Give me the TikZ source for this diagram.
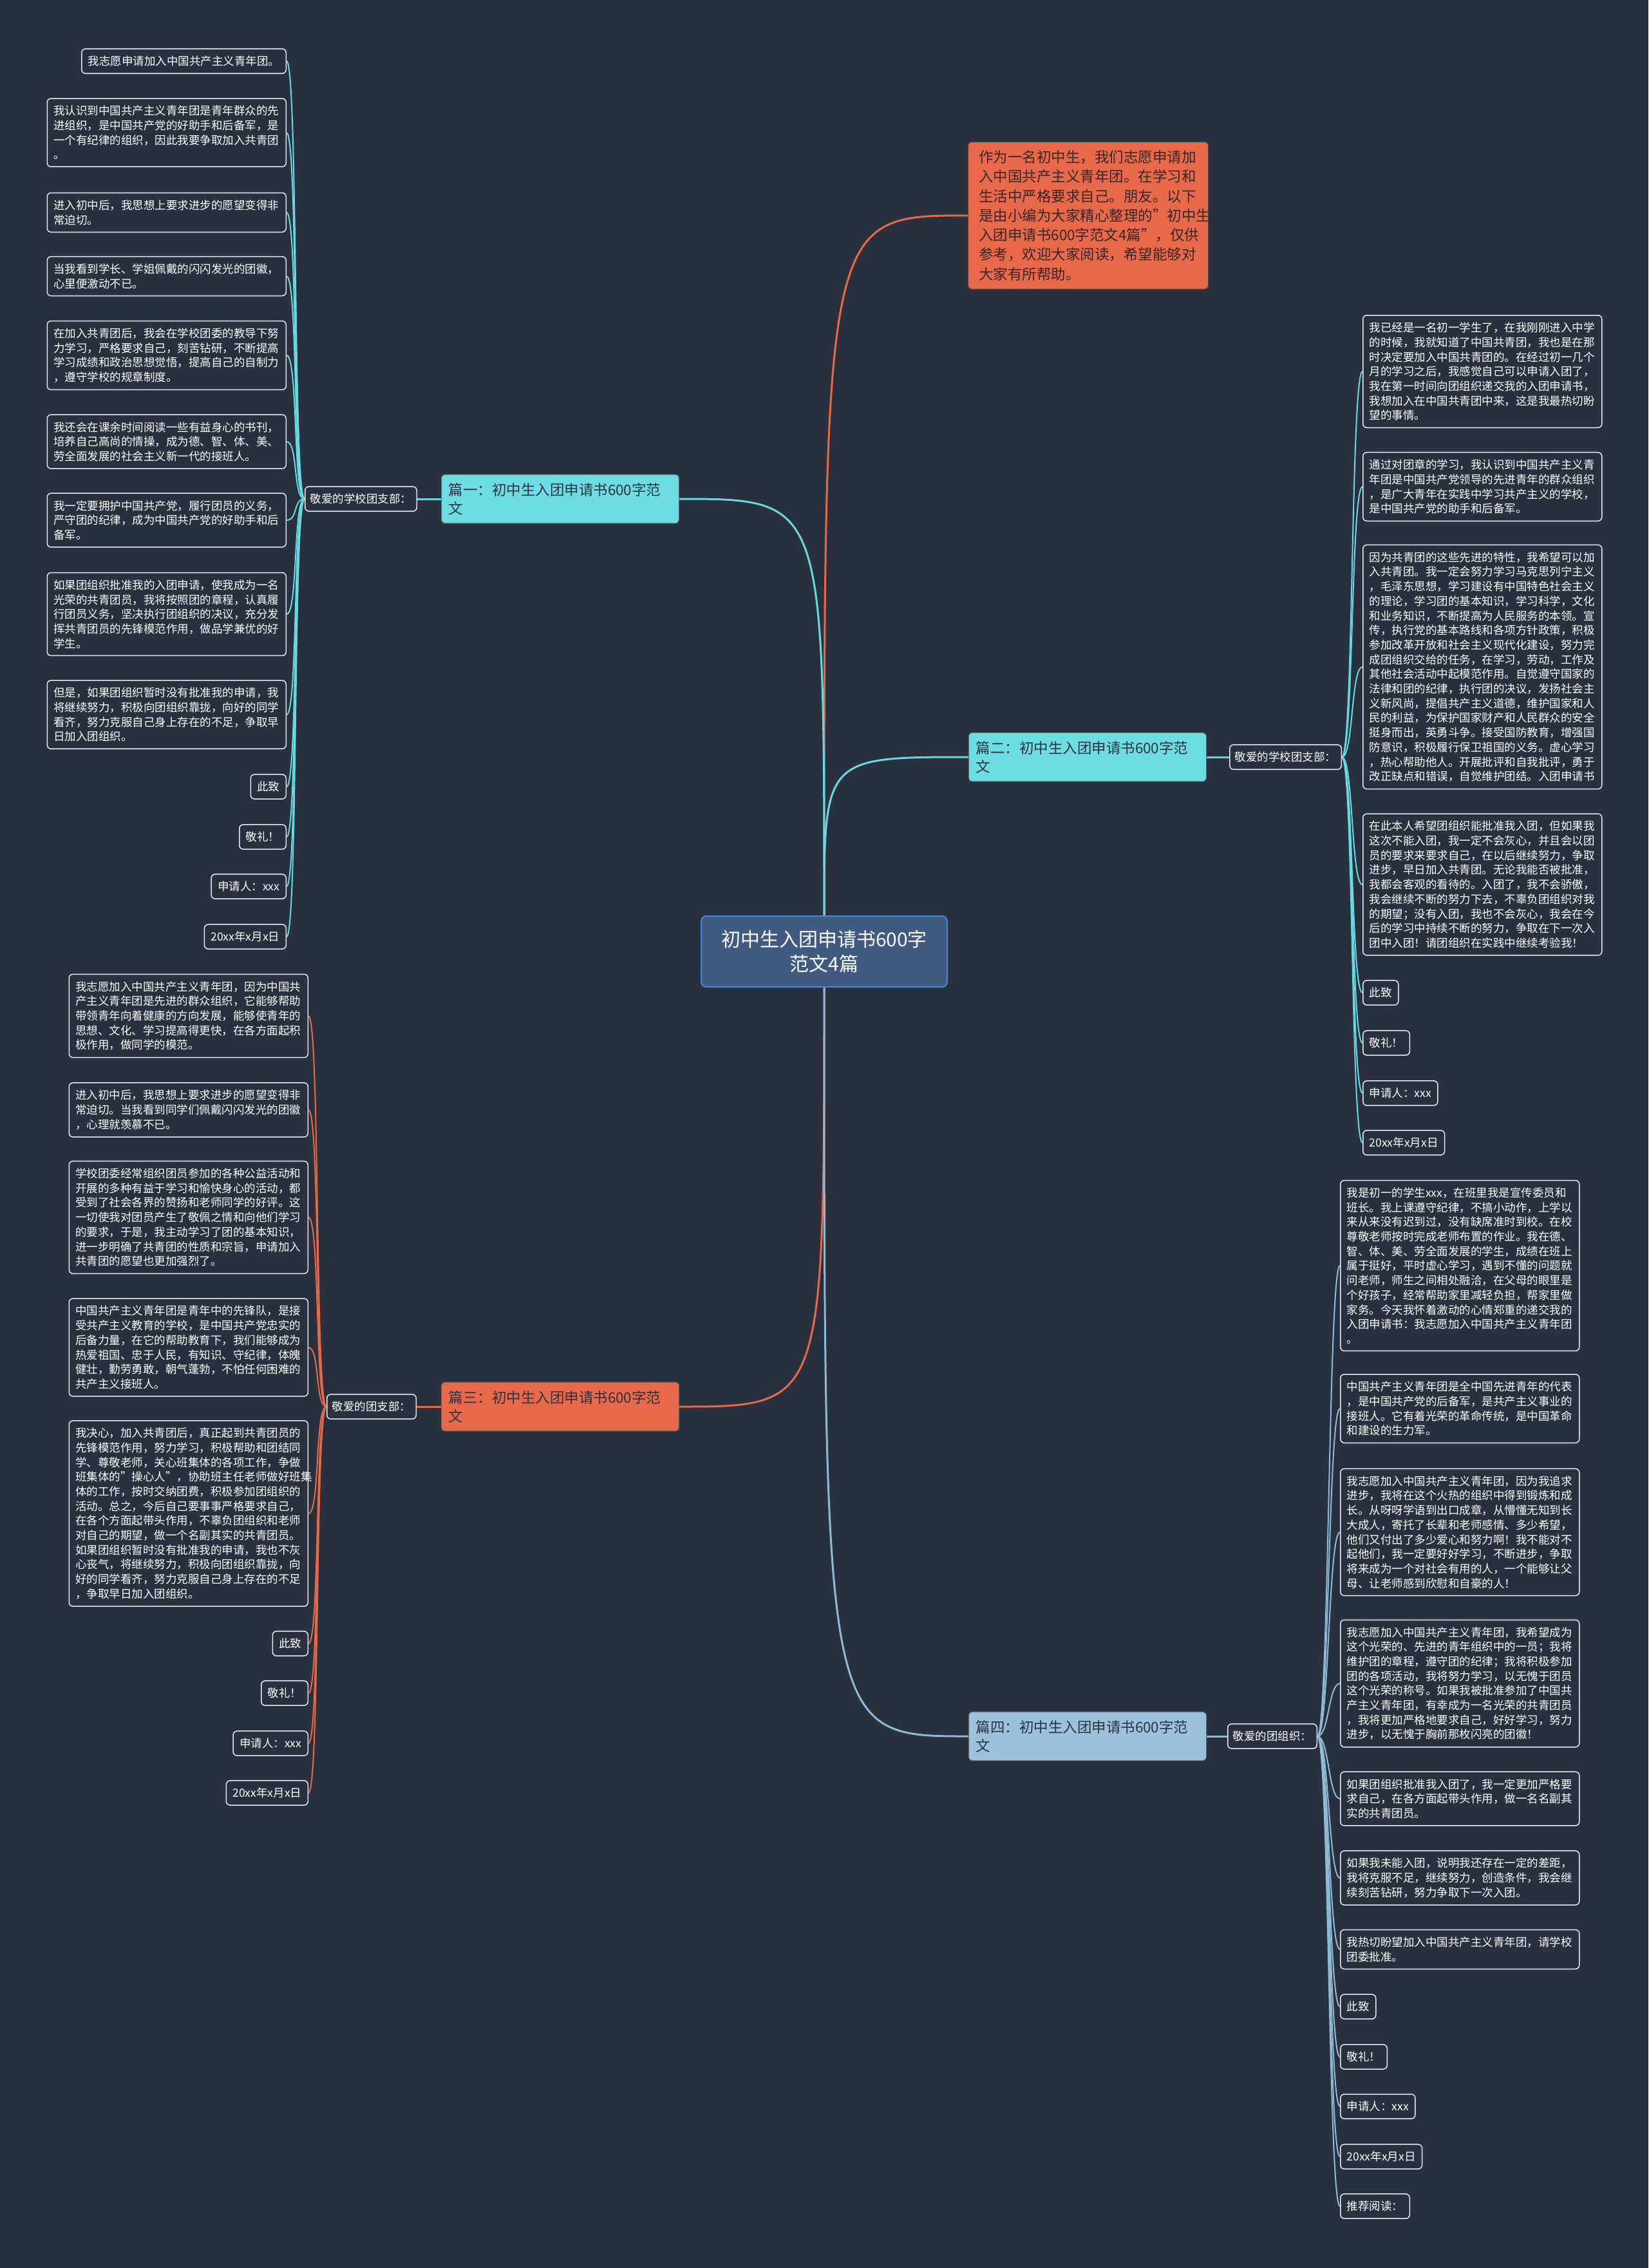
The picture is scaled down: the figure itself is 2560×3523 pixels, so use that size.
\documentclass[tikz,border=0pt]{standalone}
\usepackage{fontspec}
\setmainfont{Noto Sans CJK SC}
\usetikzlibrary{calc}
\definecolor{bg}{HTML}{2A313E}
\definecolor{cyanf}{HTML}{6CDDE2}
\definecolor{cyanl}{HTML}{66D9DF}
\definecolor{orf}{HTML}{E8694A}
\definecolor{bluef}{HTML}{9BC2DA}
\definecolor{bluel}{HTML}{8FBAD4}
\definecolor{rootf}{HTML}{3F5B82}
\definecolor{rootl}{HTML}{4A86D8}
\definecolor{leafl}{HTML}{E6EAEE}
\definecolor{btext}{HTML}{2B3440}
\definecolor{itext}{HTML}{3A2626}
\pgfdeclarelayer{back}
\pgfdeclarelayer{lines}
\pgfsetlayers{back,lines,main}
\tikzset{
  leaf/.style={draw=leafl, line width=1.5pt, rounded corners=6pt, fill=bg, text=white,
    font=\fontsize{17.5}{22.7}\selectfont, align=left, text width=351pt,
    inner xsep=10pt, inner ysep=11pt},
  tag/.style={draw=leafl, line width=1.5pt, rounded corners=6pt, fill=bg, text=white,
    font=\fontsize{17.5}{22.7}\selectfont, inner xsep=10pt, inner ysep=11pt},
  sublabel/.style={tag, inner xsep=8pt},
  branch/.style={rounded corners=6pt, text width=347pt, inner xsep=11pt, inner ysep=13pt,
    align=left, font=\fontsize{22.5}{29}\selectfont, text=btext, draw=black!60, line width=1pt},
  root/.style={fill=rootf, draw=rootl, line width=2pt, rounded corners=8pt, text=white,
    font=\fontsize{30}{38}\selectfont, align=center, minimum width=382pt, minimum height=110pt},
  intro/.style={fill=orf, draw=black!70, line width=1pt, rounded corners=6pt, text=itext,
    text width=340pt, inner xsep=16.5pt, inner ysep=13pt, align=left,
    font=\fontsize{22.5}{30.3}\selectfont},
  cmain/.style={line width=3pt},
  cthin/.style={line width=2pt},
}
\begin{document}
\begin{tikzpicture}[x=1pt,y=-1pt]
\begin{pgfonlayer}{back}
\fill[bg] (0,0) rectangle (2560,3523);
\end{pgfonlayer}
\useasboundingbox (0,0) rectangle (2560,3523);

% root
\node[root] (c) at (1280,1478) {初中生入团申请书600字\\范文4篇};

% intro
\node[intro, anchor=north west] (intro) at (1503,220) {作为一名初中生，我们志愿申请加\\入中国共产主义青年团。在学习和\\生活中严格要求自己。朋友。以下\\是由小编为大家精心整理的"初中生\\入团申请书600字范文4篇"，仅供\\参考，欢迎大家阅读，希望能够对\\大家有所帮助。};

% branches
\node[branch, fill=cyanf, anchor=west] (b1) at (685,775) {篇一：初中生入团申请书600字范\\文};
\node[branch, fill=cyanf, anchor=west] (b2) at (1504,1176) {篇二：初中生入团申请书600字范\\文};
\node[branch, fill=orf, anchor=west] (b3) at (685,2185) {篇三：初中生入团申请书600字范\\文};
\node[branch, fill=bluef, anchor=west] (b4) at (1504,2697) {篇四：初中生入团申请书600字范\\文};

% sub labels
\node[sublabel, anchor=east] (s1) at (648,775) {敬爱的学校团支部：};
\node[sublabel, anchor=west] (s2) at (1909,1176) {敬爱的学校团支部：};
\node[sublabel, anchor=east] (s3) at (647,2185) {敬爱的团支部：};
\node[sublabel, anchor=west] (s4) at (1906,2697) {敬爱的团组织：};

% group 1 (left, top)
\node[tag, anchor=east] (a1) at (445,95) {我志愿申请加入中国共产主义青年团。};
\node[leaf, anchor=east] (a2) at (445,206) {我认识到中国共产主义青年团是青年群众的先\\进组织，是中国共产党的好助手和后备军，是\\一个有纪律的组织，因此我要争取加入共青团\\。};
\node[leaf, anchor=east] (a3) at (445,330) {进入初中后，我思想上要求进步的愿望变得非\\常迫切。};
\node[leaf, anchor=east] (a4) at (445,429) {当我看到学长、学姐佩戴的闪闪发光的团徽，\\心里便激动不已。};
\node[leaf, anchor=east] (a5) at (445,552) {在加入共青团后，我会在学校团委的教导下努\\力学习，严格要求自己，刻苦钻研，不断提高\\学习成绩和政治思想觉悟，提高自己的自制力\\，遵守学校的规章制度。};
\node[leaf, anchor=east] (a6) at (445,686) {我还会在课余时间阅读一些有益身心的书刊，\\培养自己高尚的情操，成为德、智、体、美、\\劳全面发展的社会主义新一代的接班人。};
\node[leaf, anchor=east] (a7) at (445,808) {我一定要拥护中国共产党，履行团员的义务，\\严守团的纪律，成为中国共产党的好助手和后\\备军。};
\node[leaf, anchor=east] (a8) at (445,954) {如果团组织批准我的入团申请，使我成为一名\\光荣的共青团员，我将按照团的章程，认真履\\行团员义务，坚决执行团组织的决议，充分发\\挥共青团员的先锋模范作用，做品学兼优的好\\学生。};
\node[leaf, anchor=east] (a9) at (445,1110) {但是，如果团组织暂时没有批准我的申请，我\\将继续努力，积极向团组织靠拢，向好的同学\\看齐，努力克服自己身上存在的不足，争取早\\日加入团组织。};
\node[tag, anchor=east] (a10) at (445,1222) {此致};
\node[tag, anchor=east] (a11) at (445,1300) {敬礼！};
\node[tag, anchor=east] (a12) at (445,1377) {申请人：xxx};
\node[tag, anchor=east] (a13) at (445,1455) {20xx年x月x日};

% group 2 (right, top)
\node[leaf, anchor=west] (r1) at (2116,577) {我已经是一名初一学生了，在我刚刚进入中学\\的时候，我就知道了中国共青团，我也是在那\\时决定要加入中国共青团的。在经过初一几个\\月的学习之后，我感觉自己可以申请入团了，\\我在第一时间向团组织递交我的入团申请书，\\我想加入在中国共青团中来，这是我最热切盼\\望的事情。};
\node[leaf, anchor=west] (r2) at (2116,756) {通过对团章的学习，我认识到中国共产主义青\\年团是中国共产党领导的先进青年的群众组织\\，是广大青年在实践中学习共产主义的学校，\\是中国共产党的助手和后备军。};
\node[leaf, anchor=west] (r3) at (2116,1036) {因为共青团的这些先进的特性，我希望可以加\\入共青团。我一定会努力学习马克思列宁主义\\，毛泽东思想，学习建设有中国特色社会主义\\的理论，学习团的基本知识，学习科学，文化\\和业务知识，不断提高为人民服务的本领。宣\\传，执行党的基本路线和各项方针政策，积极\\参加改革开放和社会主义现代化建设，努力完\\成团组织交给的任务，在学习，劳动，工作及\\其他社会活动中起模范作用。自觉遵守国家的\\法律和团的纪律，执行团的决议，发扬社会主\\义新风尚，提倡共产主义道德，维护国家和人\\民的利益，为保护国家财产和人民群众的安全\\挺身而出，英勇斗争。接受国防教育，增强国\\防意识，积极履行保卫祖国的义务。虚心学习\\，热心帮助他人。开展批评和自我批评，勇于\\改正缺点和错误，自觉维护团结。入团申请书};
\node[leaf, anchor=west] (r4) at (2116,1374) {在此本人希望团组织能批准我入团，但如果我\\这次不能入团，我一定不会灰心，并且会以团\\员的要求来要求自己，在以后继续努力，争取\\进步，早日加入共青团。无论我能否被批准，\\我都会客观的看待的。入团了，我不会骄傲，\\我会继续不断的努力下去，不辜负团组织对我\\的期望；没有入团，我也不会灰心，我会在今\\后的学习中持续不断的努力，争取在下一次入\\团中入团！请团组织在实践中继续考验我！};
\node[tag, anchor=west] (r5) at (2116,1542) {此致};
\node[tag, anchor=west] (r6) at (2116,1620) {敬礼！};
\node[tag, anchor=west] (r7) at (2116,1698) {申请人：xxx};
\node[tag, anchor=west] (r8) at (2116,1775) {20xx年x月x日};

% group 3 (left, bottom)
\node[leaf, anchor=east] (p1) at (479,1578) {我志愿加入中国共产主义青年团，因为中国共\\产主义青年团是先进的群众组织，它能够帮助\\带领青年向着健康的方向发展，能够使青年的\\思想、文化、学习提高得更快，在各方面起积\\极作用，做同学的模范。};
\node[leaf, anchor=east] (p2) at (479,1724) {进入初中后，我思想上要求进步的愿望变得非\\常迫切。当我看到同学们佩戴闪闪发光的团徽\\，心理就羡慕不已。};
\node[leaf, anchor=east] (p3) at (479,1891) {学校团委经常组织团员参加的各种公益活动和\\开展的多种有益于学习和愉快身心的活动，都\\受到了社会各界的赞扬和老师同学的好评。这\\一切使我对团员产生了敬佩之情和向他们学习\\的要求，于是，我主动学习了团的基本知识，\\进一步明确了共青团的性质和宗旨，申请加入\\共青团的愿望也更加强烈了。};
\node[leaf, anchor=east] (p4) at (479,2093) {中国共产主义青年团是青年中的先锋队，是接\\受共产主义教育的学校，是中国共产党忠实的\\后备力量，在它的帮助教育下，我们能够成为\\热爱祖国、忠于人民，有知识、守纪律，体魄\\健壮，勤劳勇敢，朝气蓬勃，不怕任何困难的\\共产主义接班人。};
\node[leaf, anchor=east] (p5) at (479,2351) {我决心，加入共青团后，真正起到共青团员的\\先锋模范作用，努力学习，积极帮助和团结同\\学、尊敬老师，关心班集体的各项工作，争做\\班集体的"操心人"，协助班主任老师做好班集\\体的工作，按时交纳团费，积极参加团组织的\\活动。总之，今后自己要事事严格要求自己，\\在各个方面起带头作用，不辜负团组织和老师\\对自己的期望，做一个名副其实的共青团员。\\如果团组织暂时没有批准我的申请，我也不灰\\心丧气，将继续努力，积极向团组织靠拢，向\\好的同学看齐，努力克服自己身上存在的不足\\，争取早日加入团组织。};
\node[tag, anchor=east] (p6) at (479,2553) {此致};
\node[tag, anchor=east] (p7) at (479,2630) {敬礼！};
\node[tag, anchor=east] (p8) at (479,2708) {申请人：xxx};
\node[tag, anchor=east] (p9) at (479,2785) {20xx年x月x日};

% group 4 (right, bottom)
\node[leaf, anchor=west] (q1) at (2081,1966) {我是初一的学生xxx，在班里我是宣传委员和\\班长。我上课遵守纪律，不搞小动作，上学以\\来从来没有迟到过，没有缺席准时到校。在校\\尊敬老师按时完成老师布置的作业。我在德、\\智、体、美、劳全面发展的学生，成绩在班上\\属于挺好，平时虚心学习，遇到不懂的问题就\\问老师，师生之间相处融洽，在父母的眼里是\\个好孩子，经常帮助家里减轻负担，帮家里做\\家务。今天我怀着激动的心情郑重的递交我的\\入团申请书：我志愿加入中国共产主义青年团\\。};
\node[leaf, anchor=west] (q2) at (2081,2188) {中国共产主义青年团是全中国先进青年的代表\\，是中国共产党的后备军，是共产主义事业的\\接班人。它有着光荣的革命传统，是中国革命\\和建设的生力军。};
\node[leaf, anchor=west] (q3) at (2081,2380) {我志愿加入中国共产主义青年团，因为我追求\\进步，我将在这个火热的组织中得到锻炼和成\\长。从呀呀学语到出口成章，从懵懂无知到长\\大成人，寄托了长辈和老师感情、多少希望，\\他们又付出了多少爱心和努力啊！我不能对不\\起他们，我一定要好好学习，不断进步，争取\\将来成为一个对社会有用的人，一个能够让父\\母、让老师感到欣慰和自豪的人！};
\node[leaf, anchor=west] (q4) at (2081,2615) {我志愿加入中国共产主义青年团，我希望成为\\这个光荣的、先进的青年组织中的一员；我将\\维护团的章程，遵守团的纪律；我将积极参加\\团的各项活动，我将努力学习，以无愧于团员\\这个光荣的称号。如果我被批准参加了中国共\\产主义青年团，有幸成为一名光荣的共青团员\\，我将更加严格地要求自己，好好学习，努力\\进步，以无愧于胸前那枚闪亮的团徽！};
\node[leaf, anchor=west] (q5) at (2081,2794) {如果团组织批准我入团了，我一定更加严格要\\求自己，在各方面起带头作用，做一名名副其\\实的共青团员。};
\node[leaf, anchor=west] (q6) at (2081,2917) {如果我未能入团，说明我还存在一定的差距，\\我将克服不足，继续努力，创造条件，我会继\\续刻苦钻研，努力争取下一次入团。};
\node[leaf, anchor=west] (q7) at (2081,3028) {我热切盼望加入中国共产主义青年团，请学校\\团委批准。};
\node[tag, anchor=west] (q8) at (2081,3117) {此致};
\node[tag, anchor=west] (q9) at (2081,3195) {敬礼！};
\node[tag, anchor=west] (q10) at (2081,3272) {申请人：xxx};
\node[tag, anchor=west] (q11) at (2081,3350) {20xx年x月x日};
\node[tag, anchor=west] (q12) at (2081,3427) {推荐阅读：};

\begin{pgfonlayer}{lines}
% root to branches
\draw[cmain, draw=orf] (c.north) .. controls (c.north |- intro.west) .. (intro.west);
\draw[cmain, draw=cyanl] (c.north) .. controls (c.north |- b1.east) .. (b1.east);
\draw[cmain, draw=cyanl] (c.north) .. controls (c.north |- b2.west) .. (b2.west);
\draw[cmain, draw=orf] (c.south) .. controls (c.south |- b3.east) .. (b3.east);
\draw[cmain, draw=bluel] (c.south) .. controls (c.south |- b4.west) .. (b4.west);
% branches to sub labels
\draw[cmain, draw=cyanl] (b1.west) -- (s1.east);
\draw[cmain, draw=cyanl] (b2.east) -- (s2.west);
\draw[cmain, draw=orf] (b3.west) -- (s3.east);
\draw[cmain, draw=bluel] (b4.east) -- (s4.west);
% sub labels to leaves
\foreach \x in {a1,a2,a3,a4,a5,a6,a7,a8,a9,a10,a11,a12,a13}
  \draw[cthin, draw=cyanl] (s1.west) .. controls +(-18,0) and +(18,0) .. (\x.east);
\foreach \x in {r1,r2,r3,r4,r5,r6,r7,r8}
  \draw[cthin, draw=cyanl] (s2.east) .. controls +(18,0) and +(-18,0) .. (\x.west);
\foreach \x in {p1,p2,p3,p4,p5,p6,p7,p8,p9}
  \draw[cthin, draw=orf] (s3.west) .. controls +(-18,0) and +(18,0) .. (\x.east);
\foreach \x in {q1,q2,q3,q4,q5,q6,q7,q8,q9,q10,q11,q12}
  \draw[cthin, draw=bluel] (s4.east) .. controls +(18,0) and +(-18,0) .. (\x.west);
\end{pgfonlayer}
\end{tikzpicture}
\end{document}
